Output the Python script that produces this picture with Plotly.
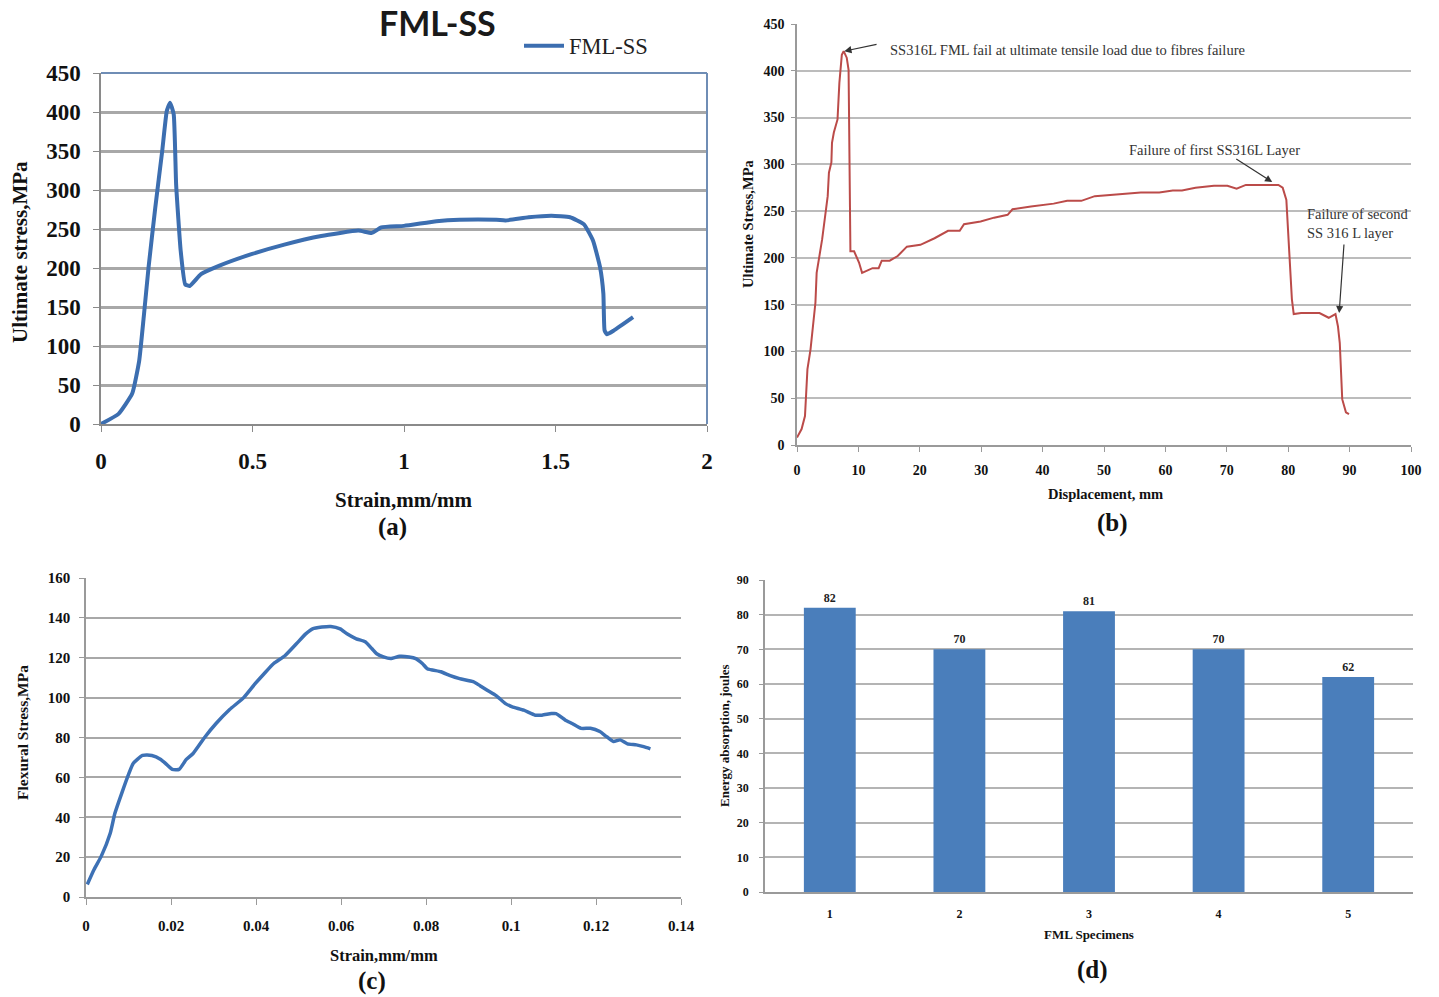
import plotly.graph_objects as go

W, H = 1439, 997

# ---------------- data ----------------
a_strain = [0, 0.058, 0.103, 0.126, 0.141, 0.157, 0.179, 0.202, 0.217, 0.228, 0.240, 0.248, 0.263,
            0.278, 0.293, 0.330, 0.391, 0.499, 0.605, 0.727, 0.849, 0.894, 0.925, 1.0, 1.107, 1.183,
            1.305, 1.335, 1.411, 1.487, 1.548, 1.594, 1.624, 1.647, 1.658, 1.662, 1.67, 1.693, 1.756]
a_stress = [0, 13, 39, 81, 137, 201, 277, 350, 401, 412, 397, 307, 222,
            179, 177, 192, 203, 218, 230, 241, 248, 245, 252, 254, 260, 262,
            262, 261, 265, 267, 265, 256, 235, 201, 167, 120, 115, 120, 137]

b_disp = [0, 0.75, 1.3, 1.7, 2.2, 2.5, 2.8, 3.0, 3.2, 4.1, 5.0, 5.2, 5.6, 5.7, 6.0, 6.6, 6.9, 7.3, 7.6,
          8.1, 8.4, 8.45, 8.6, 8.7, 9.3, 10.1, 10.6, 11.2, 12.3, 13.3, 13.8, 15.1, 16.4, 17.9, 20.1,
          22.4, 24.6, 26.5, 27.2, 29.9, 32.1, 34.3, 35.1, 38.1, 41.8, 44.0, 46.3, 48.5, 50.7, 52.9,
          56.0, 59.0, 61.2, 62.7, 64.9, 67.9, 70.1, 71.6, 73.1, 78.4, 79.1, 79.7, 80.2, 80.6, 80.9,
          82.1, 85.1, 86.6, 87.7, 88.1, 88.4, 88.8, 89.4, 89.9]
b_stress = [8, 17, 31, 81, 102, 124, 141, 152, 184, 220, 266, 291, 302, 323, 334, 348, 387, 417, 421,
            414, 401, 351, 262, 207, 207, 195, 184, 186, 189, 189, 197, 197, 202, 212, 214,
            221, 229, 229, 236, 239, 243, 246, 252, 255, 258, 261, 261, 266, 267, 268,
            270, 270, 272, 272, 275, 277, 277, 274, 278, 278, 275, 262, 198, 156, 140,
            141, 141, 136, 140, 127, 109, 49, 35, 33]

c_strain = [0.0003, 0.0019, 0.0036, 0.0057, 0.0068, 0.0084, 0.0101, 0.0111, 0.0133, 0.0155, 0.0176,
            0.0187, 0.0203, 0.0219, 0.0236, 0.0252, 0.0279, 0.0306, 0.0338, 0.0371, 0.0398, 0.0419,
            0.0441, 0.0468, 0.0495, 0.0517, 0.0533, 0.0555, 0.0576, 0.0598, 0.0614, 0.0636, 0.0657,
            0.0673, 0.0684, 0.0700, 0.0717, 0.0738, 0.0760, 0.0776, 0.0792, 0.0803, 0.0835, 0.0857,
            0.0879, 0.0911, 0.0927, 0.0944, 0.0965, 0.0987, 0.1003, 0.1030, 0.1057, 0.1073, 0.1095,
            0.1106, 0.1128, 0.1144, 0.1165, 0.1187, 0.1209, 0.1225, 0.1241, 0.1257, 0.1274, 0.1295,
            0.1312, 0.1328]
c_stress = [6.3, 13.8, 20.5, 32, 42, 52, 62, 67, 71, 71, 69,
            67, 64, 64, 69, 72, 80, 87, 94, 100, 107, 112,
            117, 121, 127, 132, 134.5, 135.4, 135.7, 134.5, 132, 129.5, 128,
            124.5, 122, 120.4, 119.6, 120.7, 120.4, 119.6, 117, 114.5, 113, 111,
            109.5, 108, 106, 103.7, 101, 97, 95.4, 93.7, 91.2, 91.2, 92,
            92, 88.7, 87, 84.6, 84.6, 83, 80.4, 78, 78.8, 76.8, 76.3,
            75.4, 74.3]

d_specimens = ["1", "2", "3", "4", "5"]
d_energy = [82, 70, 81, 70, 62]

# ---------------- helpers ----------------
SERIF = "Liberation Serif"
SANS = "Lato"


def px_x(x):
    return x / W


def px_y(y):
    return 1 - y / H


def dom_x(x0, x1):
    return [px_x(x0), px_x(x1)]


def dom_y(ytop, ybot):
    return [px_y(ybot), px_y(ytop)]


fig = go.Figure()

fig.add_trace(go.Scatter(x=a_strain, y=a_stress, mode="lines", name="FML-SS",
                         line=dict(color="#3c6eb0", width=4, shape="spline", smoothing=0.4),
                         xaxis="x", yaxis="y", showlegend=True))
fig.add_trace(go.Scatter(x=b_disp, y=b_stress, mode="lines", name="b",
                         line=dict(color="#bb4b49", width=2),
                         xaxis="x2", yaxis="y2", showlegend=False))
fig.add_trace(go.Scatter(x=c_strain, y=c_stress, mode="lines", name="c",
                         line=dict(color="#3d71b5", width=3.5, shape="spline", smoothing=0.5),
                         xaxis="x3", yaxis="y3", showlegend=False))
fig.add_trace(go.Bar(x=d_specimens, y=d_energy, name="d", width=0.4,
                     marker=dict(color="#4a7ebb", line=dict(width=0)),
                     text=[str(v) for v in d_energy], textposition="outside",
                     textfont=dict(family=SERIF, size=12, color="#222", weight="bold"),
                     cliponaxis=False,
                     xaxis="x4", yaxis="y4", showlegend=False))

layout = dict(
    width=W, height=H,
    margin=dict(l=0, r=0, t=0, b=0, autoexpand=False),
    paper_bgcolor="white", plot_bgcolor="white",
    font=dict(family=SERIF, color="#222"),
    showlegend=True,
    legend=dict(x=px_x(519), y=px_y(46), xanchor="left", yanchor="middle",
                bgcolor="rgba(0,0,0,0)", borderwidth=0, itemwidth=40,
                font=dict(family=SERIF, size=22.5, color="#222"),
                tracegroupgap=0),
    # panel a
    xaxis=dict(domain=dom_x(101, 707), anchor="y", range=[0, 2], dtick=0.5, tick0=0,
               showgrid=False, zeroline=False, showline=True, linecolor="#8a8a8a", linewidth=1.5,
               ticks="outside", ticklen=6, tickcolor="#8a8a8a", ticklabelstandoff=10,
               automargin=False,
               tickfont=dict(family=SERIF, size=23, color="#111", weight="bold")),
    yaxis=dict(domain=dom_y(73, 424), anchor="x", range=[0, 450], dtick=50,
               showgrid=True, gridcolor="#a8a8a8", gridwidth=3, zeroline=False,
               showline=True, linecolor="#8a8a8a", linewidth=1.5,
               ticks="outside", ticklen=6, tickcolor="#8a8a8a", ticklabelstandoff=8,
               automargin=False,
               tickfont=dict(family=SERIF, size=23, color="#111", weight="bold")),
    # panel b
    xaxis2=dict(domain=dom_x(797, 1411), anchor="y2", range=[0, 100], dtick=10,
                showgrid=False, zeroline=False, showline=True, linecolor="#9a9a9a", linewidth=1.5,
                ticks="outside", ticklen=5, tickcolor="#9a9a9a", ticklabelstandoff=6,
                automargin=False,
                tickfont=dict(family=SERIF, size=14, color="#111", weight="bold")),
    yaxis2=dict(domain=dom_y(24, 445), anchor="x2", range=[0, 450], dtick=50,
                showgrid=True, gridcolor="#bcbcbc", gridwidth=1.5, zeroline=False,
                showline=True, linecolor="#9a9a9a", linewidth=1.5,
                ticks="outside", ticklen=4, tickcolor="#9a9a9a", ticklabelstandoff=4,
                automargin=False,
                tickfont=dict(family=SERIF, size=14, color="#111", weight="bold")),
    # panel c
    xaxis3=dict(domain=dom_x(86, 681), anchor="y3", range=[0, 0.14], dtick=0.02, tick0=0,
                showgrid=False, zeroline=False, showline=True, linecolor="#9a9a9a", linewidth=1.5,
                ticks="outside", ticklen=6, tickcolor="#9a9a9a", ticklabelstandoff=8,
                automargin=False,
                tickfont=dict(family=SERIF, size=15, color="#111", weight="bold")),
    yaxis3=dict(domain=dom_y(578, 897), anchor="x3", range=[0, 160], dtick=20,
                showgrid=True, gridcolor="#a8a8a8", gridwidth=1.5, zeroline=False,
                showline=True, linecolor="#9a9a9a", linewidth=1.5,
                ticks="outside", ticklen=5, tickcolor="#9a9a9a", ticklabelstandoff=6,
                automargin=False,
                tickfont=dict(family=SERIF, size=15, color="#111", weight="bold")),
    # panel d
    xaxis4=dict(domain=dom_x(765, 1413), anchor="y4", type="category", range=[-0.5, 4.5],
                showgrid=False, zeroline=False, showline=True, linecolor="#9a9a9a", linewidth=1.5,
                ticks="", ticklabelstandoff=10, automargin=False,
                tickfont=dict(family=SERIF, size=12, color="#111", weight="bold")),
    yaxis4=dict(domain=dom_y(580, 892), anchor="x4", range=[0, 90], dtick=10,
                showgrid=True, gridcolor="#b4b4b4", gridwidth=1.5, zeroline=False,
                showline=True, linecolor="#9a9a9a", linewidth=1.5,
                ticks="outside", ticklen=4, tickcolor="#9a9a9a", ticklabelstandoff=8,
                automargin=False,
                tickfont=dict(family=SERIF, size=12, color="#111", weight="bold")),
)
fig.update_layout(**layout)

# blue frame (top and right) for panel a
fig.add_shape(type="line", xref="paper", yref="paper", x0=px_x(101), x1=px_x(707),
              y0=px_y(73), y1=px_y(73), line=dict(color="#6f8db5", width=2))
fig.add_shape(type="line", xref="paper", yref="paper", x0=px_x(707), x1=px_x(707),
              y0=px_y(73), y1=px_y(424), line=dict(color="#6f8db5", width=2))

ann = []


def label(text, x, y, size, rot=0, family=SERIF, bold=True, color="#111"):
    ann.append(dict(text=text, x=px_x(x), y=px_y(y), xref="paper", yref="paper",
                    showarrow=False, textangle=rot, xanchor="center", yanchor="middle",
                    font=dict(family=family, size=size, color=color,
                              weight="bold" if bold else "normal")))


# titles / axis titles
label("FML-SS", 438, 23, 34, family=SANS, bold=True, color="#1a1a1a")
label("Ultimate stress,MPa", 20, 252, 21, rot=-90)
label("Strain,mm/mm", 404, 500, 21)
label("(a)", 392, 527, 25)

label("Ultimate Stress,MPa", 748, 224, 14.5, rot=-90)
label("Displacement, mm", 1105, 494, 14.5)
label("(b)", 1112, 523, 25)

label("Flexural Stress,MPa", 22, 733, 15.5, rot=-90)
label("Strain,mm/mm", 384, 955, 16.5)
label("(c)", 372, 981, 25)

label("Energy absorption, joules", 724, 736, 13, rot=-90)
label("FML Specimens", 1089, 934, 13)
label("(d)", 1092, 970, 25)

# panel b annotations (arrows in data coordinates)
arrow_style = dict(showarrow=True, arrowhead=2, arrowsize=1.2, arrowwidth=1.2,
                   arrowcolor="#333", xref="x2", yref="y2", axref="x2", ayref="y2", text="")
ann.append(dict(x=7.7, y=421, ax=13.2, ay=428.6, **arrow_style))
ann.append(dict(x=77.4, y=281, ax=71.3, ay=306.8, **arrow_style))
ann.append(dict(x=88.3, y=141, ax=89.1, ay=215.9, **arrow_style))

ann.append(dict(text="SS316L FML fail at ultimate tensile load due to fibres failure",
                x=14.9, y=422, xref="x2", yref="y2", xanchor="left", yanchor="middle",
                showarrow=False, font=dict(family=SERIF, size=14.5, color="#333")))
ann.append(dict(text="Failure of first SS316L Layer",
                x=68.0, y=315.3, xref="x2", yref="y2", xanchor="center", yanchor="middle",
                showarrow=False, font=dict(family=SERIF, size=14.5, color="#333")))
ann.append(dict(text="Failure of second<br>SS 316 L layer",
                x=82.7, y=236.7, xref="x2", yref="y2", xanchor="left", yanchor="middle",
                align="left", showarrow=False, font=dict(family=SERIF, size=14.5, color="#333")))

fig.update_layout(annotations=ann)

# remove the default page margin so the 1439x997 figure fills the window exactly
fig.write_html("out.html",
               config={"displayModeBar": False},
               post_script="document.body.style.margin='0px';document.body.style.overflow='hidden';")
